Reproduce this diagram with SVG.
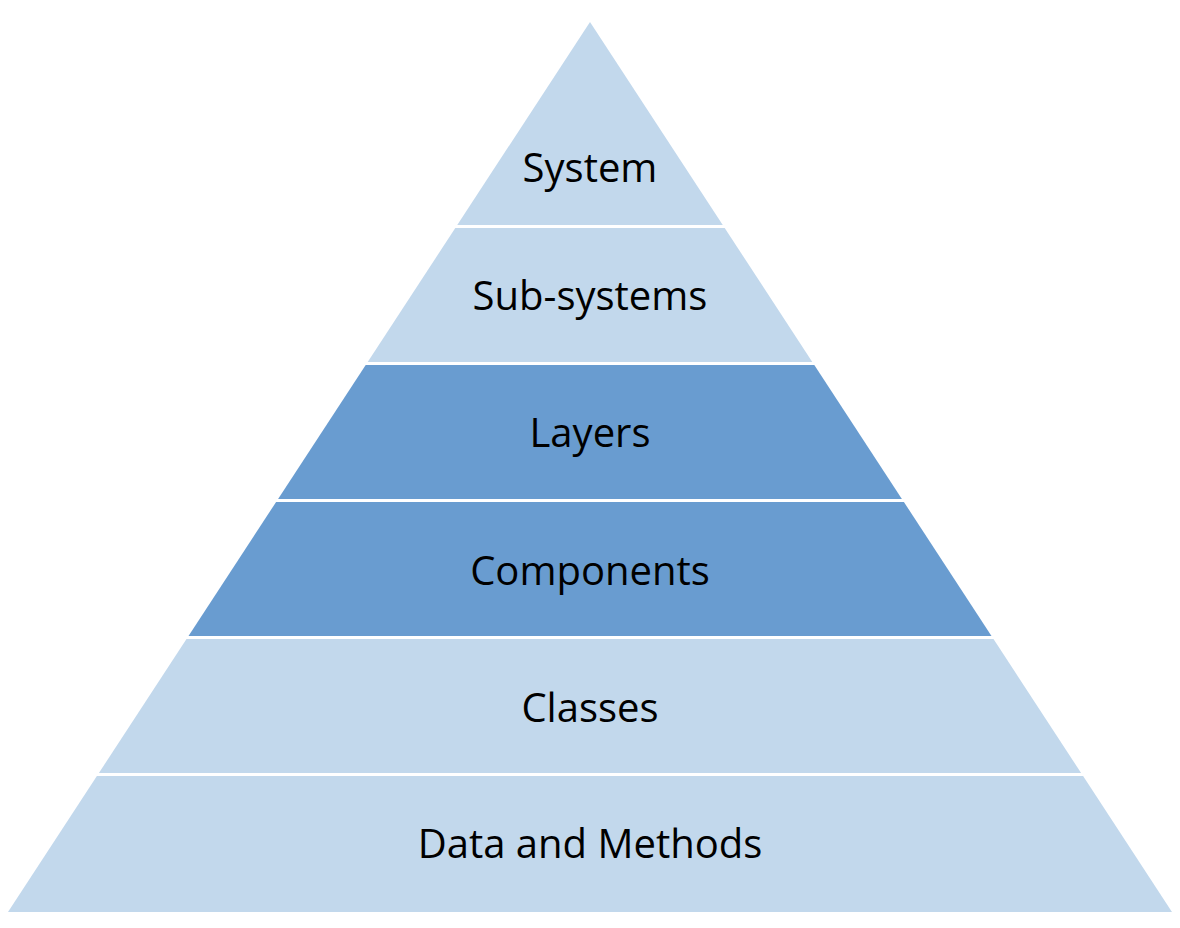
<svg xmlns="http://www.w3.org/2000/svg" width="1180" height="928" viewBox="0 0 1180 928">
<style>
.light{fill:#C2D8EC}
.dark{fill:#699CD0}
.lbl{font-family:"Open Sans","Noto Sans","Liberation Sans",sans-serif;font-size:40px;fill:#000;text-anchor:middle}
</style>
<rect width="1180" height="928" fill="#FFFFFF"/>
<g id="system">
<polygon class="light" points="590,22 722.75,225 457.25,225"/>
<text class="lbl" x="590" y="182">System</text>
</g>
<g id="sub-systems">
<polygon class="light" points="455.3,228 724.7,228 812.3,362 367.7,362"/>
<text class="lbl" x="590" y="310">Sub-systems</text>
</g>
<g id="layers">
<polygon class="dark" points="365.7,365 814.3,365 901.9,499 278.1,499"/>
<text class="lbl" x="590" y="447">Layers</text>
</g>
<g id="components">
<polygon class="dark" points="276.1,502 903.9,502 991.5,636 188.5,636"/>
<text class="lbl" x="590" y="585">Components</text>
</g>
<g id="classes">
<polygon class="light" points="186.5,639 993.5,639 1081.1,773 98.9,773"/>
<text class="lbl" x="590" y="722">Classes</text>
</g>
<g id="data-and-methods">
<polygon class="light" points="96.9,776 1083.1,776 1172,912 8,912"/>
<text class="lbl" x="590" y="858">Data and Methods</text>
</g>
<g id="connectors"></g>
</svg>
